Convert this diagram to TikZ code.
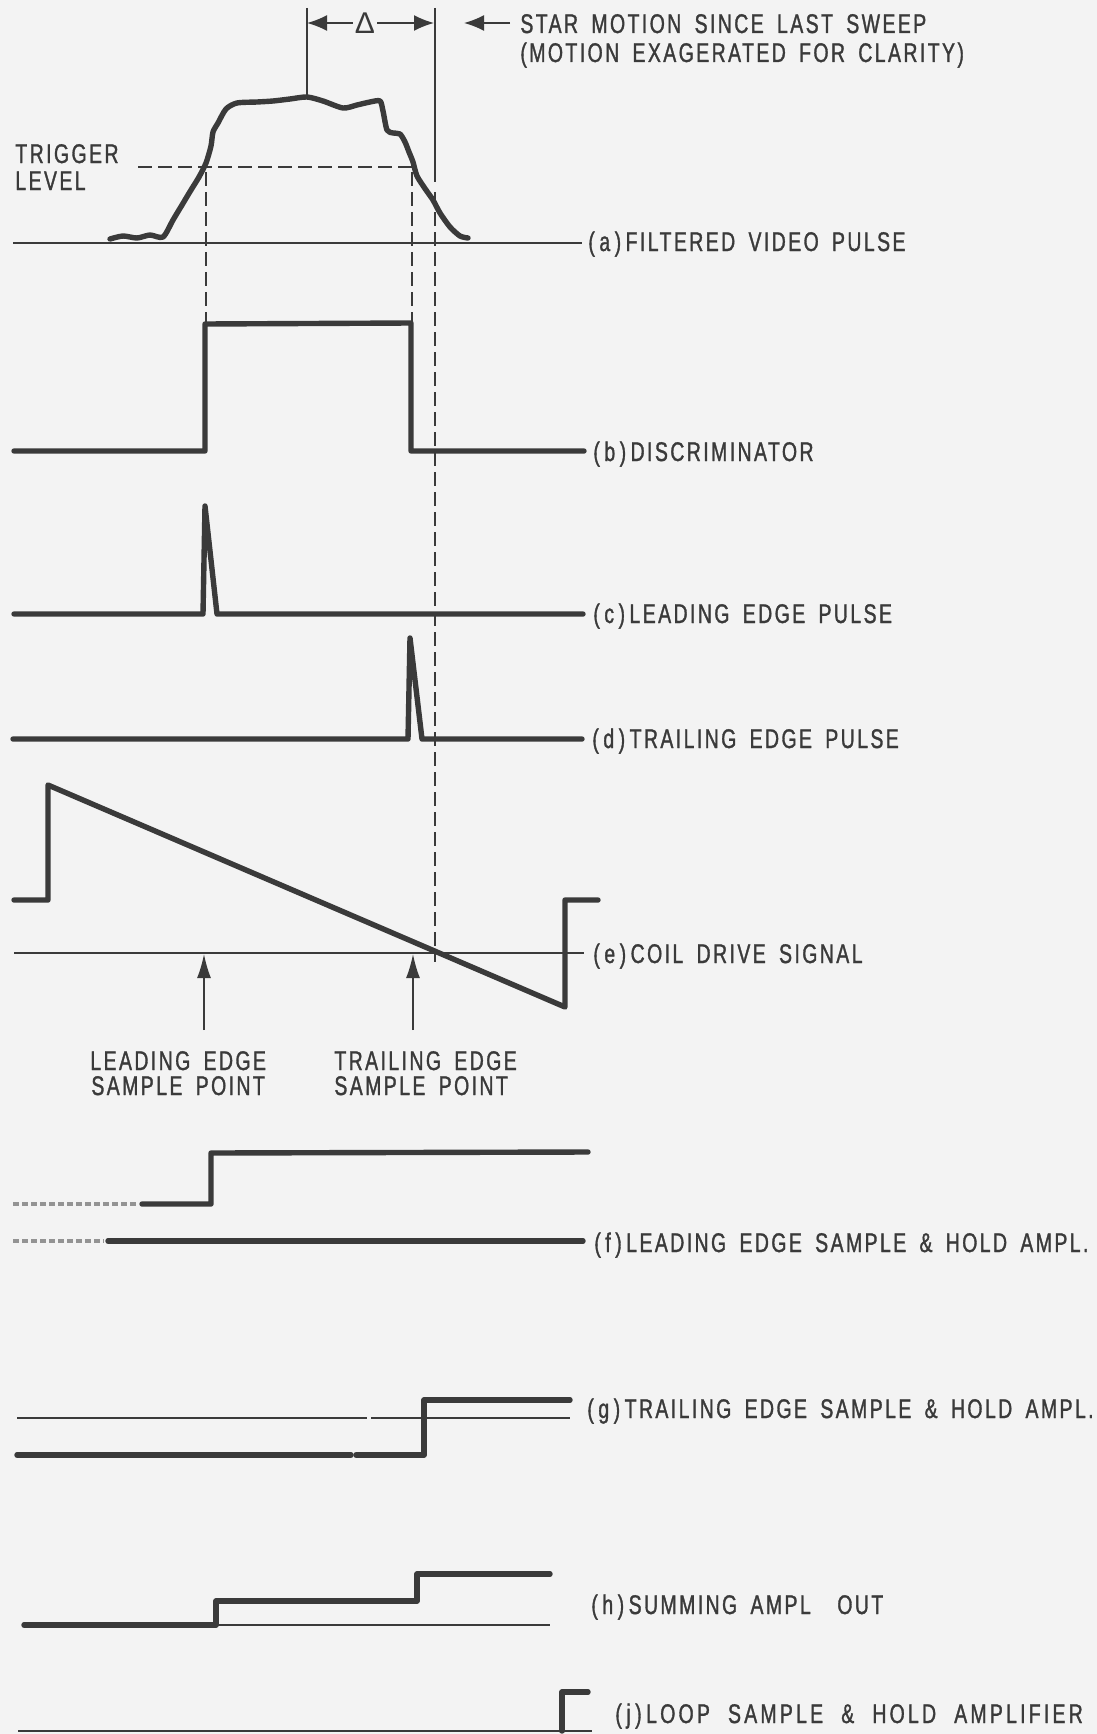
\documentclass[tikz,border=0pt]{standalone}
\usepackage{fontspec}
\newfontfamily\lblfont{Liberation Sans}[FakeStretch=0.72,LetterSpace=9,WordSpace=1.7,FakeBold=1.2]
\newfontfamily\widelblfont{Liberation Sans}[FakeStretch=0.72,LetterSpace=12,WordSpace=2.1,FakeBold=1.2]
\newfontfamily\plainsans{Liberation Sans}
\usetikzlibrary{arrows.meta}
\definecolor{ink}{RGB}{58,58,58}
\definecolor{paper}{RGB}{243,243,243}
\begin{document}
\begin{tikzpicture}[x=0.5pt,y=-0.5pt,
  trace/.style={ink, line width=2.7pt, line join=round, line cap=round},
  thinline/.style={ink, line width=1.1pt},
  hair/.style={ink, line width=0.8pt},
  dashline/.style={ink, line width=0.8pt, dash pattern=on 7pt off 3pt},
  noisy/.style={ink!55, line width=1.8pt, dash pattern=on 3pt off 1.5pt},
  lbl/.style={font=\lblfont\fontsize{13.5}{13.5}\selectfont, text=ink, inner sep=0pt, anchor=base west},
  tip/.style={-{Latex[length=10pt,width=8pt]}},
  bigtip/.style={-{Latex[length=12pt,width=7pt]}}]
\fill[paper] (0,0) rectangle (1097,1734);
\useasboundingbox (0,0) rectangle (1097,1734);

% ---- top: star motion markers ----
\draw[hair] (307,8) -- (307,97);
\draw[hair] (435,8) -- (435,182);
\draw[dashline] (435,192) -- (435,962);
\node[font=\plainsans\fontsize{15}{15}\selectfont, text=ink, inner sep=1pt] (delta) at (365,23) {Δ};
\coordinate (dL) at (307,23);
\coordinate (dR) at (434,23);
\draw[hair, tip] (delta.west) -- (dL);
\draw[hair, tip] (delta.east) -- (dR);
\node[lbl] (star1) at (520,33) {STAR MOTION SINCE LAST SWEEP};
\node[lbl] (star2) at (520,62) {(MOTION EXAGERATED FOR CLARITY)};
\coordinate (sa) at (510,23);
\draw[hair, tip] (sa) -- (464,23);

% ---- (a) filtered video pulse ----
\node[lbl] (trig1) at (15,163) {TRIGGER};
\node[lbl] (trig2) at (15,190) {LEVEL};
\draw[dashline] (138,167) -- (413,167);
\draw[thinline] (13,243) -- (582,243);
\draw[trace] plot[smooth, tension=0.45] coordinates {
 (110,239) (123,236) (137,238) (150,235) (163,237) (173,220) (182,205)
 (191,190) (199,177) (206,163) (211,146) (213,132) (218,123) (226,109)
 (237,103) (257,102) (273,101) (290,99) (307,97) (323,101) (343,108)
 (357,105) (370,102) (380,101) (383,111) (387,130) (393,133) (400,134)
 (405,142) (409,152) (413,162) (417,176) (426,190) (433,200) (440,213)
 (450,227) (460,236) (468,238)};
\node[lbl] (la) at (588,251) {(\,a\,)\,FILTERED VIDEO PULSE};

% dashed projections
\draw[dashline] (206,172) -- (206,322);
\draw[dashline] (412,172) -- (412,322);

% ---- (b) discriminator ----
\draw[trace] (14,451) -- (205,451) -- (205,324) -- (411,323) -- (411,451) -- (584,451);
\node[lbl] (lb) at (593,461) {(\,b\,)\,DISCRIMINATOR};

% ---- (c) leading edge pulse ----
\draw[trace] (14,614) -- (203,614) -- (205,506) -- (217,614) -- (583,614);
\node[lbl] (lc) at (593,623) {(\,c\,)\,LEADING EDGE PULSE};

% ---- (d) trailing edge pulse ----
\draw[trace] (13,739) -- (408,739) -- (410,638) -- (422,739) -- (582,739);
\node[lbl] (ld) at (592,748) {(\,d\,)\,TRAILING EDGE PULSE};

% ---- (e) coil drive signal ----
\draw[thinline] (14,953) -- (584,953);
\draw[trace] (14,900) -- (48,900) -- (48,785) -- (565,1007) -- (565,900) -- (598,900);
\node[lbl] (le) at (593,963) {(\,e\,)\,COIL DRIVE SIGNAL};
\coordinate (spL) at (204,954);
\coordinate (spT) at (413,954);
\draw[hair, bigtip] (204,1030) -- (spL);
\draw[hair, bigtip] (413,1030) -- (spT);
\node[lbl] (lsp1) at (90,1070) {LEADING EDGE};
\node[lbl] (lsp2) at (91,1095) {SAMPLE POINT};
\node[lbl] (tsp1) at (334,1070) {TRAILING EDGE};
\node[lbl] (tsp2) at (334,1095) {SAMPLE POINT};

% ---- (f) leading edge sample & hold ----
\draw[noisy] (13,1204) -- (136,1204);
\draw[trace] (142,1204) -- (211,1204) -- (211,1153) -- (588,1152);
\draw[noisy] (13,1241) -- (104,1241);
\draw[trace] (108,1241) -- (583,1241);
\node[lbl] (lf) at (594,1252) {(\,f\,)\,LEADING EDGE SAMPLE \& HOLD AMPL.};

% ---- (g) trailing edge sample & hold ----
\draw[thinline] (17,1418) -- (367,1418);
\draw[thinline] (371,1418) -- (570,1418);
\draw[trace] (17,1455) -- (351,1455);
\draw[trace] (356,1455) -- (424,1455) -- (424,1400) -- (570,1400);
\node[lbl] (lg) at (587,1418) {(\,g\,)\,TRAILING EDGE SAMPLE \& HOLD AMPL.};

% ---- (h) summing ampl out ----
\draw[thinline] (216,1625) -- (550,1625);
\draw[trace] (24,1625) -- (216,1625) -- (216,1601) -- (417,1601) -- (417,1574) -- (550,1574);
\node[lbl] (lh) at (591,1614) {(\,h\,)\,SUMMING AMPL \ OUT};

% ---- (j) loop sample & hold ----
\draw[thinline] (18,1731) -- (592,1731);
\draw[trace] (562,1731) -- (562,1692) -- (588,1692);
\node[lbl, font=\widelblfont\fontsize{13.5}{13.5}\selectfont] (lj) at (615,1723) {(\,j\,)\,LOOP SAMPLE \& HOLD AMPLIFIER};
\end{tikzpicture}
\end{document}
